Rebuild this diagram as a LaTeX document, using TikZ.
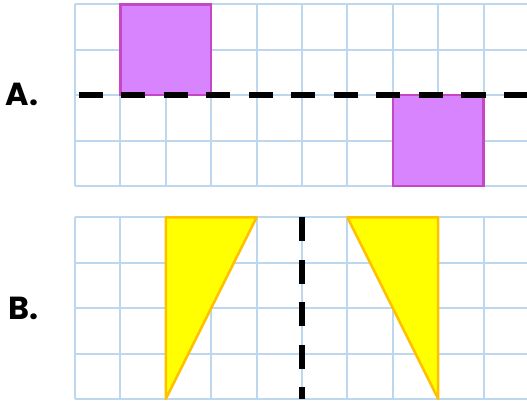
\documentclass[tikz,border=0pt]{standalone}
\usepackage{fontspec}
\setsansfont{Poppins}
\usepackage{tikz}
\usetikzlibrary{positioning}
\definecolor{gridblue}{HTML}{BDD7EE}
\definecolor{violetfill}{HTML}{D884FE}
\definecolor{violetline}{HTML}{C547C5}
\definecolor{triyellow}{HTML}{FFFF00}
\definecolor{triorange}{HTML}{FFC000}

\begin{document}
\begin{tikzpicture}[x=45.4bp, y=45.4bp,
    gridline/.style={gridblue, line width=2bp, step=45.4bp},
    axisdash/.style={line width=6bp, dash pattern=on 24bp off 18.5bp},
    sqr/.style={fill=violetfill, draw=violetline, line width=2.5bp},
    tri/.style={fill=triyellow, draw=triorange, line width=2.5bp, line join=round},
    letter/.style={font=\sffamily\bfseries\fontsize{32}{32}\selectfont, inner sep=0pt}]
  \useasboundingbox (-1.652,-4.780) rectangle (9.956,4.097);

  % A: reflection in a horizontal line
  \draw[gridline] (0,0) grid (9.99,4);
  \draw[sqr] (1,2) rectangle (3,4);
  \draw[sqr] (7,0) rectangle (9,2);
  \draw[axisdash] (0.088,2) -- (10.2,2);
  \node[letter] (labA) at (-1.167,2.01) {A.};

  % B: reflection in a vertical line
  \begin{scope}[shift={(0,-4.69)}]
    \draw[gridline] (0,0) grid (9.99,4);
    \draw[tri] (2,4) -- (4,4) -- (2,0) -- cycle;
    \draw[tri] (6,4) -- (8,4) -- (8,0) -- cycle;
    \draw[axisdash] (5,4) -- (5,0);
    \node[letter] (labB) at (-1.134,2.0) {B.};
  \end{scope}
\end{tikzpicture}
\end{document}
